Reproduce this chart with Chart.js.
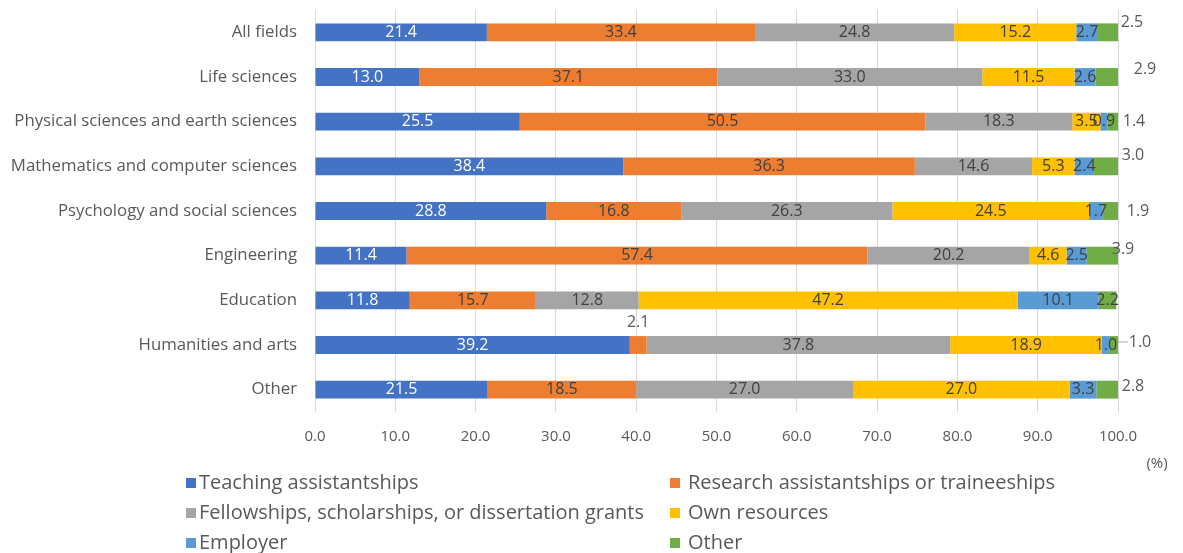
<!DOCTYPE html>
<html>
<head>
<meta charset="utf-8">
<script src="https://cdn.jsdelivr.net/npm/chart.js@4/dist/chart.umd.min.js"></script>
<style>
  html, body { margin: 0; padding: 0; background: #fff; }
  #wrap { position: relative; width: 1183px; height: 553px; }
  #legend { position: absolute; left: 186px; top: 467px; width: 990px; font: 20px "Open Sans", sans-serif; color: #595959; }
  #legend div { position: absolute; white-space: nowrap; line-height: 30px; }
  #legend span { display: inline-block; width: 10px; height: 10px; margin-right: 3px; vertical-align: 1px; }
</style>
</head>
<body>
<div id="wrap">
  <canvas id="fundingChart" width="1183" height="553"></canvas>
  <div id="legend"></div>
</div>
<script>
const fields = ["All fields", "Life sciences", "Physical sciences and earth sciences", "Mathematics and computer sciences",
  "Psychology and social sciences", "Engineering", "Education", "Humanities and arts", "Other"];

const teaching   = [21.4, 13.0, 25.5, 38.4, 28.8, 11.4, 11.8, 39.2, 21.5];
const research   = [33.4, 37.1, 50.5, 36.3, 16.8, 57.4, 15.7, 2.1, 18.5];
const fellowship = [24.8, 33.0, 18.3, 14.6, 26.3, 20.2, 12.8, 37.8, 27.0];
const own        = [15.2, 11.5, 3.5, 5.3, 24.5, 4.6, 47.2, 18.9, 27.0];
const employer   = [2.7, 2.6, 0.9, 2.4, 1.7, 2.5, 10.1, 1.0, 3.3];
const other      = [2.5, 2.9, 1.4, 3.0, 1.9, 3.9, 2.2, 1.0, 2.8];

const xTicks = [0, 10, 20, 30, 40, 50, 60, 70, 80, 90, 100];

// label nudges for the small end segments (Excel moved these by hand)
const otherLabelShift = [[14, -10], [27, -8], [16, 0], [15, -11], [20, 0], [5, -6], null, [22, -3], [15, -3]];

(() => {
  const ctx = document.getElementById("fundingChart");
  if (!ctx || typeof Chart === "undefined") return;

  const font = '"Open Sans", sans-serif';

  const segmentLabels = {
    id: "segmentLabels",
    afterDatasetsDraw(chart) {
      const c = chart.ctx;
      c.save();
      c.font = "16px " + font;
      c.textAlign = "center";
      c.textBaseline = "middle";
      chart.data.datasets.forEach((ds, di) => {
        const meta = chart.getDatasetMeta(di);
        meta.data.forEach((bar, i) => {
          const txt = ds.data[i].toFixed(1);
          let x = (bar.x + bar.base) / 2, y = bar.y;
          c.fillStyle = di === 0 ? "#ffffff" : "#404040";
          if (di === 5 && otherLabelShift[i]) {
            const right = Math.min(bar.x, chart.chartArea.right);
            x = right + otherLabelShift[i][0];
            y = bar.y + otherLabelShift[i][1];
            c.fillStyle = "#595959";
            if (i === 7) {
              c.strokeStyle = "#a6a6a6";
              c.lineWidth = 1;
              c.beginPath();
              c.moveTo(right, y);
              c.lineTo(x - 12, y);
              c.stroke();
            }
          } else if (di === 1 && i === 7) {
            y = bar.y - 23;
            c.fillStyle = "#595959";
          }
          c.fillText(txt, x, y);
        });
      });
      c.font = "15px " + font;
      c.fillStyle = "#595959";
      c.fillText("(%)", 1157, 464);
      c.restore();
    }
  };

  const chart = new Chart(ctx, {
    type: "bar",
    data: {
      labels: fields,
      datasets: [
        { label: "Teaching assistantships", data: teaching, backgroundColor: "#4472C4" },
        { label: "Research assistantships or traineeships", data: research, backgroundColor: "#ED7D31" },
        { label: "Fellowships, scholarships, or dissertation grants", data: fellowship, backgroundColor: "#A5A5A5" },
        { label: "Own resources", data: own, backgroundColor: "#FFC000" },
        { label: "Employer", data: employer, backgroundColor: "#5B9BD5" },
        { label: "Other", data: other, backgroundColor: "#70AD47" }
      ]
    },
    options: {
      indexAxis: "y",
      responsive: false,
      animation: false,
      barPercentage: 0.4,
      categoryPercentage: 1,
      layout: { padding: { left: 0, right: 65, top: 10, bottom: 0 } },
      plugins: { legend: { display: false }, tooltip: { enabled: false } },
      scales: {
        x: {
          stacked: true,
          min: 0,
          max: 100,
          afterBuildTicks: s => { s.ticks = xTicks.map(v => ({ value: v })); },
          afterFit: s => { s.height = 141; s.paddingLeft = 0; s.paddingRight = 0; },
          grid: { color: "#d9d9d9", drawTicks: false },
          border: { display: false },
          ticks: { padding: 16, color: "#595959", font: { family: font, size: 15 }, callback: v => v.toFixed(1) }
        },
        y: {
          stacked: true,
          afterFit: s => { s.width = 315; s.paddingTop = 0; s.paddingBottom = 0; },
          grid: { display: false },
          border: { display: false },
          ticks: { padding: 10, color: "#595959", font: { family: font, size: 16.8 } }
        }
      }
    },
    plugins: [segmentLabels]
  });

  const legend = document.getElementById("legend");
  chart.data.datasets.forEach((ds, i) => {
    const item = document.createElement("div");
    item.style.left = (i % 2 ? 484 : 0) + "px";
    item.style.top = Math.floor(i / 2) * 30 + "px";
    const gap = i % 2 ? 8 : 3;
    item.innerHTML = '<span style="background:' + ds.backgroundColor + ';margin-right:' + gap + 'px"></span>' + ds.label;
    legend.appendChild(item);
  });
})();
</script>
</body>
</html>
